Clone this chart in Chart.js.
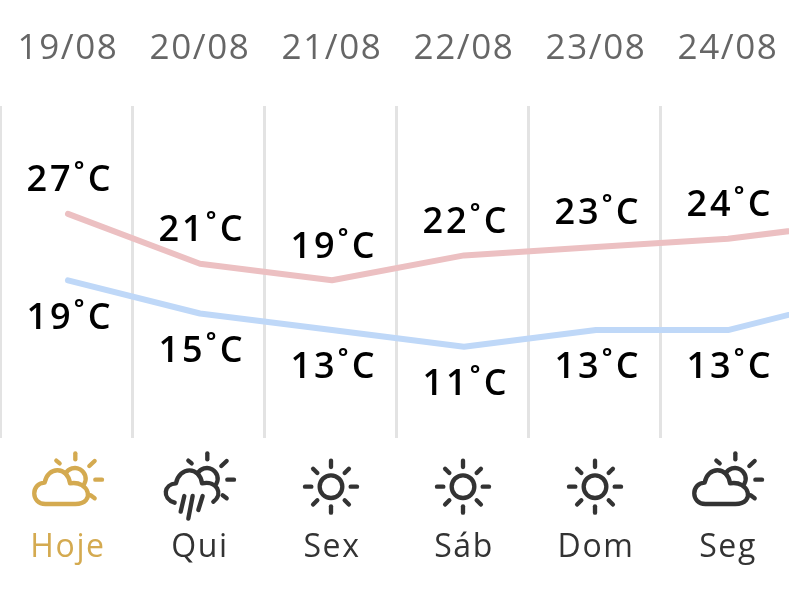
<!DOCTYPE html>
<html>
<head>
<meta charset="utf-8">
<style>
  html, body { margin: 0; padding: 0; background: #fff; overflow: hidden; }
  canvas { display: block; }
</style>
<script src="https://cdn.jsdelivr.net/npm/chart.js@4"></script>
</head>
<body>
<canvas id="forecast" width="789" height="590"></canvas>
<script>
const dates = ['19/08', '20/08', '21/08', '22/08', '23/08', '24/08']
const days = ['Hoje', 'Qui', 'Sex', 'Sáb', 'Dom', 'Seg']
const icons = ['cloudSun', 'rainSun', 'sun', 'sun', 'sun', 'cloudSun']
// the seventh value is the day that runs off the right edge
const maxTemps = [27, 21, 19, 22, 23, 24, 26]
const minTemps = [19, 15, 13, 11, 13, 13, 17]

const GOLD = '#d4aa50'
const DARK = '#333333'
const LABEL_FONT = '"Open Sans", sans-serif'

const toPoints = values => values.map((v, i) => ({x: i, y: v}))

// icons are sketched at 3x, relative to the column centre and y = 430
const seg = (ctx, x1, y1, x2, y2) => {
    ctx.beginPath()
    ctx.moveTo(x1, y1)
    ctx.lineTo(x2, y2)
    ctx.stroke()
}

const drawSun = (ctx) => {
    const cy = 170
    ctx.beginPath()
    ctx.arc(-3, cy, 34, 0, Math.PI * 2)
    ctx.stroke()
    for (let i = 0; i < 8; i++) {
        const a = i * Math.PI / 4
        const outer = i % 2 ? 76 : 78
        const inner = i % 2 ? 58 : 59
        seg(ctx, -3 + Math.cos(a) * inner, cy + Math.sin(a) * inner, -3 + Math.cos(a) * outer, cy + Math.sin(a) * outer)
    }
}

const drawSunBehind = (ctx) => {
    ctx.beginPath()
    ctx.arc(21, 146, 32, Math.PI * 1.16, Math.PI * 0.22)
    ctx.stroke()
    seg(ctx, 22, 70, 22, 88)
    seg(ctx, 64, 108, 80, 93)
    seg(ctx, 82, 149, 102, 149)
    seg(ctx, 68, 196, 80, 205)
    seg(ctx, -35, 92, -25, 100)
}

const drawCloud = (ctx, open) => {
    ctx.beginPath()
    if (open) {
        ctx.moveTo(-76, 218)
        ctx.bezierCurveTo(-116, 205, -108, 162, -72, 160)
    } else {
        ctx.moveTo(22, 222)
        ctx.lineTo(-68, 222)
        ctx.bezierCurveTo(-112, 222, -112, 160, -70, 158)
    }
    ctx.bezierCurveTo(-62, 108, 0, 108, 6, 160)
    if (open) {
        ctx.bezierCurveTo(50, 150, 72, 192, 40, 215)
    } else {
        ctx.bezierCurveTo(64, 150, 84, 222, 22, 222)
    }
    ctx.stroke()
}

const drawIcon = (ctx, type, cx, color) => {
    ctx.save()
    ctx.translate(cx, 430)
    ctx.scale(1 / 3, 1 / 3)
    ctx.strokeStyle = color
    ctx.lineWidth = 13
    ctx.lineCap = 'round'
    ctx.lineJoin = 'round'
    if (type === 'sun') {
        drawSun(ctx)
    } else {
        drawSunBehind(ctx)
        drawCloud(ctx, type === 'rainSun')
        if (type === 'rainSun') {
            seg(ctx, -47, 198, -58, 245)
            seg(ctx, -22, 198, -35, 266)
            seg(ctx, 8, 198, -5, 240)
        }
    }
    ctx.restore()
}

const weatherPlugin = {
    id: 'weather',
    beforeDraw(chart) {
        // tick labels in the reference are tracked out
        chart.ctx.letterSpacing = '1.6px'
    },
    afterDatasetsDraw(chart) {
        const {ctx} = chart
        const offsets = [-33, 38]
        chart.data.datasets.forEach((ds, d) => {
            const meta = chart.getDatasetMeta(d)
            ctx.save()
            ctx.font = '600 36px ' + LABEL_FONT
            ctx.fillStyle = '#000'
            ctx.textAlign = 'center'
            ctx.textBaseline = 'middle'
            ctx.letterSpacing = '3px'
            dates.forEach((_, i) => {
                const pt = meta.data[i]
                ctx.fillText(ds.data[i].y + '˚C', pt.x + 2, pt.y + offsets[d])
            })
            ctx.restore()
        })
        days.forEach((_, i) => {
            drawIcon(ctx, icons[i], chart.scales.x.getPixelForValue(i), i === 0 ? GOLD : DARK)
        })
    }
}

const fixAxis = (scale, height) => {
    scale.height = height
    scale.paddingLeft = 0
    scale.paddingRight = 0
}

const sharedX = {
    type: 'linear',
    min: -0.515,
    max: 5.462,
    border: {display: false},
    ticks: {autoSkip: false, maxRotation: 0, minRotation: 0, includeBounds: false}
}

new Chart(document.getElementById('forecast'), {
    type: 'line',
    plugins: [weatherPlugin],
    data: {
        datasets: [{
            label: 'Máx',
            data: toPoints(maxTemps),
            xAxisID: 'x',
            borderColor: '#ecc0c2',
            borderWidth: 6,
            borderCapStyle: 'round',
            borderJoinStyle: 'round',
            pointRadius: 0,
            tension: 0
        }, {
            label: 'Mín',
            data: toPoints(minTemps),
            xAxisID: 'x',
            borderColor: '#bfd8f8',
            borderWidth: 6,
            borderCapStyle: 'round',
            borderJoinStyle: 'round',
            pointRadius: 0,
            tension: 0
        }]
    },
    options: {
        responsive: false,
        animation: false,
        layout: {padding: 0},
        plugins: {legend: {display: false}, tooltip: {enabled: false}},
        scales: {
            x: {
                ...sharedX,
                position: 'bottom',
                grid: {color: '#e3e3e3', lineWidth: 3, drawTicks: false},
                ticks: {display: false},
                afterBuildTicks: scale => {
                    scale.ticks = dates.map((_, i) => ({value: i - 0.512}))
                },
                afterFit: scale => fixAxis(scale, 0)
            },
            xDays: {
                ...sharedX,
                position: 'bottom',
                grid: {display: false},
                ticks: {
                    ...sharedX.ticks,
                    padding: 83,
                    font: {family: LABEL_FONT, size: 32},
                    color: ctx => ctx.index === 0 ? GOLD : DARK,
                    callback: (v, i) => days[i]
                },
                afterBuildTicks: scale => {
                    scale.ticks = days.map((_, i) => ({value: i}))
                },
                afterFit: scale => fixAxis(scale, 152)
            },
            xDates: {
                ...sharedX,
                position: 'top',
                grid: {display: false},
                ticks: {
                    ...sharedX.ticks,
                    padding: 28,
                    font: {family: LABEL_FONT, size: 35},
                    color: '#666666',
                    callback: (v, i) => dates[i]
                },
                afterBuildTicks: scale => {
                    scale.ticks = dates.map((_, i) => ({value: i}))
                },
                afterFit: scale => fixAxis(scale, 106)
            },
            y: {display: false, min: 0, max: 40}
        }
    }
})
</script>
</body>
</html>
